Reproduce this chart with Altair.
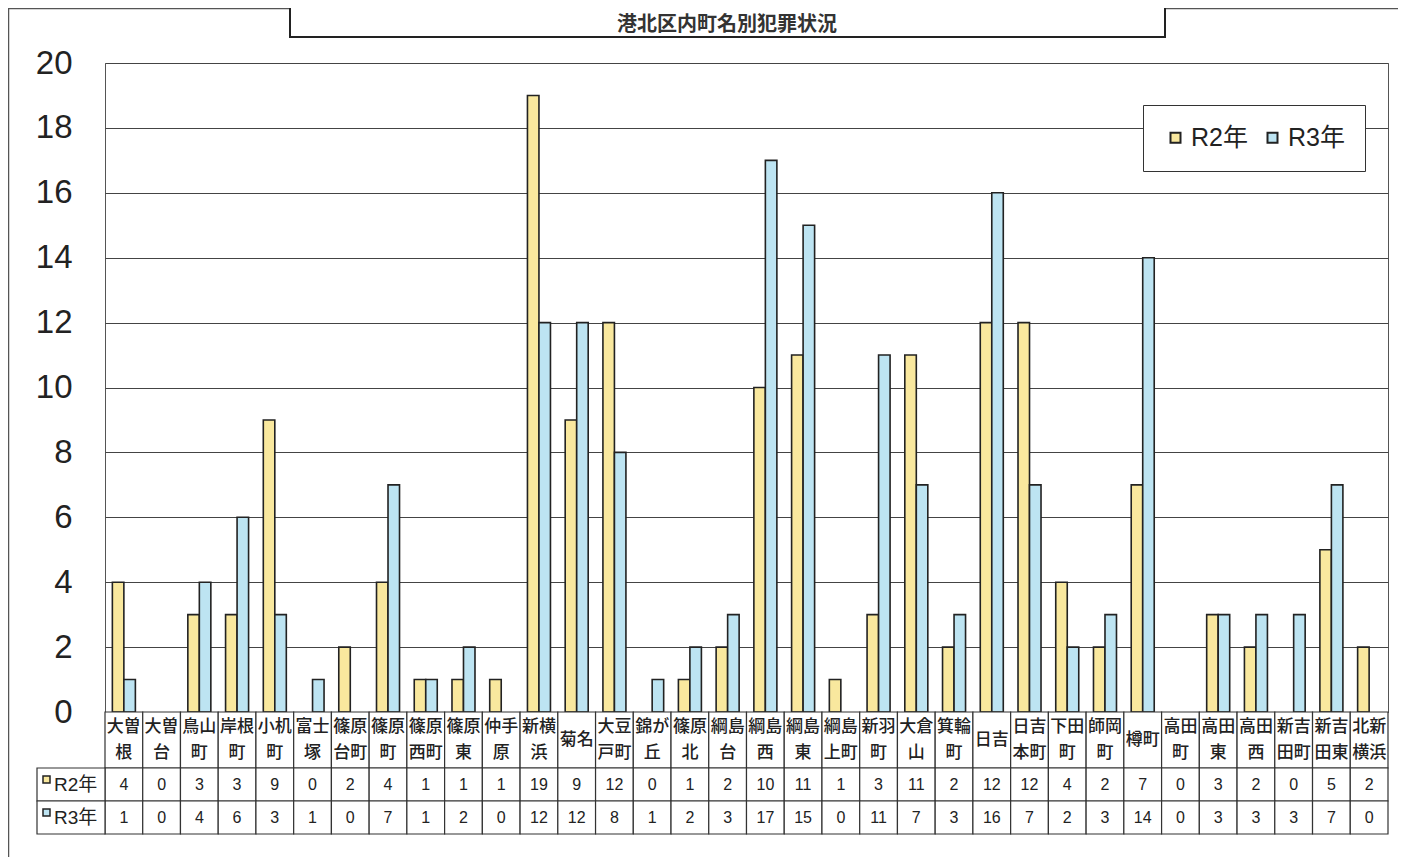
import altair as alt
import pandas as pd

names = ["大曽根", "大曽台", "鳥山町", "岸根町", "小机町", "富士塚", "篠原台町", "篠原町",
         "篠原西町", "篠原東", "仲手原", "新横浜", "菊名", "大豆戸町", "錦が丘", "篠原北",
         "綱島台", "綱島西", "綱島東", "綱島上町", "新羽町", "大倉山", "箕輪町", "日吉",
         "日吉本町", "下田町", "師岡町", "樽町", "高田町", "高田東", "高田西", "新吉田町",
         "新吉田東", "北新横浜"]
labels = ["大曽\n根", "大曽\n台", "鳥山\n町", "岸根\n町", "小机\n町", "富士\n塚", "篠原\n台町", "篠原\n町",
          "篠原\n西町", "篠原\n東", "仲手\n原", "新横\n浜", "菊名", "大豆\n戸町", "錦が\n丘", "篠原\n北",
          "綱島\n台", "綱島\n西", "綱島\n東", "綱島\n上町", "新羽\n町", "大倉\n山", "箕輪\n町", "日吉",
          "日吉\n本町", "下田\n町", "師岡\n町", "樽町", "高田\n町", "高田\n東", "高田\n西", "新吉\n田町",
          "新吉\n田東", "北新\n横浜"]
r2 = [4, 0, 3, 3, 9, 0, 2, 4, 1, 1, 1, 19, 9, 12, 0, 1, 2, 10, 11, 1, 3, 11, 2, 12, 12, 4, 2, 7, 0, 3, 2, 0, 5, 2]
r3 = [1, 0, 4, 6, 3, 1, 0, 7, 1, 2, 0, 12, 12, 8, 1, 2, 3, 17, 15, 0, 11, 7, 3, 16, 7, 2, 3, 14, 0, 3, 3, 3, 7, 0]
series = ["R2年", "R3年"]
colors = ["#F9E89E", "#BDE4F2"]
title_text = "港北区内町名別犯罪状況"

rows = []
for i, n in enumerate(names):
    rows.append({"name": n, "series": series[0], "value": r2[i]})
    rows.append({"name": n, "series": series[1], "value": r3[i]})
df = pd.DataFrame(rows)
cat_df = pd.DataFrame({"name": names, "label": labels, "R2": r2, "R3": r3})
one = pd.DataFrame({"k": [0]})

W, H = 1283, 649
JP = "Liberation Sans, Noto Sans CJK JP"

xenc = alt.X("name:N", sort=names, axis=None,
             scale=alt.Scale(paddingInner=0, paddingOuter=0))
xmid = alt.X("name:N", sort=names, axis=None, bandPosition=0.5)

frame = alt.Chart(one).mark_rect(filled=False, stroke="#555", strokeWidth=1.5).encode(
    x=alt.value(-96.5), x2=alt.value(1400), y=alt.value(-54.5), y2=alt.value(900))

bars = alt.Chart(df).transform_filter("datum.value > 0").mark_bar(
    stroke="#222", strokeWidth=1.6).encode(
    x=xenc,
    xOffset=alt.XOffset("series:N", sort=series,
                        scale=alt.Scale(paddingOuter=0.64, paddingInner=0)),
    y=alt.Y("value:Q", scale=alt.Scale(domain=[0, 20], nice=False),
            axis=alt.Axis(values=list(range(0, 21, 2)), title=None, ticks=False, domain=False,
                          grid=True, gridColor="#444", gridWidth=1,
                          labelFont="Liberation Sans", labelFontSize=33, labelColor="#222",
                          labelPadding=33, labelFlush=False)),
    color=alt.Color("series:N", sort=series,
                    scale=alt.Scale(domain=series, range=colors),
                    legend=alt.Legend(title=None, orient="none", legendX=1038, legendY=42,
                                      direction="horizontal", fillColor="white",
                                      strokeColor="#333", padding=20,
                                      labelFont=JP, labelFontSize=25, labelColor="#222",
                                      symbolType="square", symbolSize=100,
                                      symbolStrokeColor="#222", symbolStrokeWidth=2,
                                      columnPadding=12, labelOffset=3)),
)

title_box = alt.Chart(one).mark_rect(fill="white", stroke="#222", strokeWidth=2).encode(
    x=alt.value(185), x2=alt.value(1060), y=alt.value(-90), y2=alt.value(-26))
title = alt.Chart(one).mark_text(text=title_text, font="Noto Sans CJK JP", fontSize=20,
                                 fontWeight="bold", align="center", baseline="alphabetic",
                                 color="#333").encode(
    x=alt.value(622), y=alt.value(-32))

cell_style = dict(fill="white", stroke="#333", strokeWidth=1.2)
label_cells = alt.Chart(cat_df).mark_rect(**cell_style).encode(
    x=xenc, y=alt.value(H), y2=alt.value(705))
r2_cells = alt.Chart(cat_df).mark_rect(**cell_style).encode(
    x=xenc, y=alt.value(705), y2=alt.value(738))
r3_cells = alt.Chart(cat_df).mark_rect(**cell_style).encode(
    x=xenc, y=alt.value(738), y2=alt.value(771))
head_r2 = alt.Chart(one).mark_rect(**cell_style).encode(
    x=alt.value(-68), x2=alt.value(0), y=alt.value(705), y2=alt.value(738))
head_r3 = alt.Chart(one).mark_rect(**cell_style).encode(
    x=alt.value(-68), x2=alt.value(0), y=alt.value(738), y2=alt.value(771))

label_style = dict(font="Noto Sans CJK JP", fontSize=17, lineBreak="\n", lineHeight=26,
                   baseline="middle", color="#222", fontWeight=500)
label_two = alt.Chart(cat_df).transform_filter("indexof(datum.label, '\\n') >= 0").mark_text(
    **label_style).encode(x=xmid, y=alt.value(664), text="label:N")
label_one = alt.Chart(cat_df).transform_filter("indexof(datum.label, '\\n') < 0").mark_text(
    **label_style).encode(x=xmid, y=alt.value(677), text="label:N")
r2_text = alt.Chart(cat_df).mark_text(font="Liberation Sans", fontSize=16, baseline="middle",
                                      color="#222").encode(
    x=xmid, y=alt.value(722), text="R2:Q")
r3_text = alt.Chart(cat_df).mark_text(font="Liberation Sans", fontSize=16, baseline="middle",
                                      color="#222").encode(
    x=xmid, y=alt.value(755), text="R3:Q")

head_sym_r2 = alt.Chart(one).mark_rect(fill=colors[0], stroke="#222", strokeWidth=1.5).encode(
    x=alt.value(-62), x2=alt.value(-55), y=alt.value(713), y2=alt.value(720))
head_sym_r3 = alt.Chart(one).mark_rect(fill=colors[1], stroke="#222", strokeWidth=1.5).encode(
    x=alt.value(-62), x2=alt.value(-55), y=alt.value(746), y2=alt.value(753))
head_txt_r2 = alt.Chart(one).mark_text(text=series[0], font=JP, fontSize=19, align="left",
                                       baseline="middle", color="#222").encode(
    x=alt.value(-51), y=alt.value(722))
head_txt_r3 = alt.Chart(one).mark_text(text=series[1], font=JP, fontSize=19, align="left",
                                       baseline="middle", color="#222").encode(
    x=alt.value(-51), y=alt.value(755))

chart = alt.layer(
    frame, bars, title_box, title,
    label_cells, r2_cells, r3_cells, head_r2, head_r3,
    label_two, label_one, r2_text, r3_text,
    head_sym_r2, head_sym_r3, head_txt_r2, head_txt_r3,
).properties(
    width=W, height=H,
    autosize=alt.AutoSizeParams(type="none"),
    padding={"left": 97, "top": 55, "right": 10, "bottom": 145},
    background="white",
).configure_view(stroke="#555", strokeWidth=1)

chart.save("out.html", embed_options={"renderer": "svg", "actions": False})
